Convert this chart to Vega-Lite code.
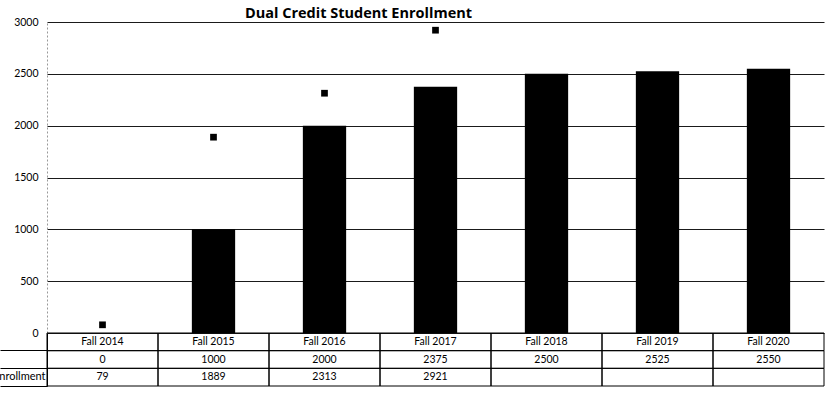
{
  "$schema": "https://vega.github.io/schema/vega-lite/v6.json",
  "autosize": {"type": "none"},
  "width": 777,
  "height": 364,
  "padding": {"left": 47, "top": 22, "right": 1, "bottom": 16},
  "background": "white",
  "config": {
    "view": {"stroke": null},
    "font": "Lato"
  },
  "title": {
    "text": "Dual Credit Student Enrollment",
    "font": "Open Sans",
    "fontSize": 14.5,
    "fontWeight": "bold",
    "color": "black",
    "anchor": "middle",
    "dx": -77,
    "offset": -4,
    "frame": "group"
  },
  "datasets": {
    "enroll": [
      {"season": "Fall 2014", "goal": 0, "actual": 79},
      {"season": "Fall 2015", "goal": 1000, "actual": 1889},
      {"season": "Fall 2016", "goal": 2000, "actual": 2313},
      {"season": "Fall 2017", "goal": 2375, "actual": 2921},
      {"season": "Fall 2018", "goal": 2500},
      {"season": "Fall 2019", "goal": 2525},
      {"season": "Fall 2020", "goal": 2550}
    ],
    "table": [
      {"season": "Fall 2014", "row": "Season", "text": "Fall 2014"},
      {"season": "Fall 2015", "row": "Season", "text": "Fall 2015"},
      {"season": "Fall 2016", "row": "Season", "text": "Fall 2016"},
      {"season": "Fall 2017", "row": "Season", "text": "Fall 2017"},
      {"season": "Fall 2018", "row": "Season", "text": "Fall 2018"},
      {"season": "Fall 2019", "row": "Season", "text": "Fall 2019"},
      {"season": "Fall 2020", "row": "Season", "text": "Fall 2020"},
      {"season": "Fall 2014", "row": "Goal", "text": "0"},
      {"season": "Fall 2015", "row": "Goal", "text": "1000"},
      {"season": "Fall 2016", "row": "Goal", "text": "2000"},
      {"season": "Fall 2017", "row": "Goal", "text": "2375"},
      {"season": "Fall 2018", "row": "Goal", "text": "2500"},
      {"season": "Fall 2019", "row": "Goal", "text": "2525"},
      {"season": "Fall 2020", "row": "Goal", "text": "2550"},
      {"season": "Fall 2014", "row": "Actual", "text": "79"},
      {"season": "Fall 2015", "row": "Actual", "text": "1889"},
      {"season": "Fall 2016", "row": "Actual", "text": "2313"},
      {"season": "Fall 2017", "row": "Actual", "text": "2921"},
      {"season": "Fall 2018", "row": "Actual", "text": ""},
      {"season": "Fall 2019", "row": "Actual", "text": ""},
      {"season": "Fall 2020", "row": "Actual", "text": ""}
    ]
  },
  "encoding": {
    "x": {
      "field": "season",
      "type": "nominal",
      "sort": null,
      "scale": {"paddingInner": 0, "paddingOuter": 0},
      "axis": null
    }
  },
  "layer": [
    {
      "data": {"name": "enroll"},
      "layer": [
        {
          "mark": {"type": "bar", "color": "black", "width": {"band": 0.39}},
          "encoding": {
            "y": {
              "field": "goal",
              "type": "quantitative",
              "scale": {"domain": [0, 3000], "range": [311, 0], "nice": false},
              "axis": {
                "title": null,
                "values": [0, 500, 1000, 1500, 2000, 2500, 3000],
                "format": "d",
                "grid": true,
                "gridColor": "#1a1a1a",
                "gridWidth": 1.2,
                "gridOpacity": 1,
                "ticks": false,
                "domain": true,
                "domainColor": "#999999",
                "domainDash": [2, 2],
                "domainWidth": 1,
                "labelFont": "Lato",
                "labelFontSize": 10.5,
                "labelColor": "black",
                "labelPadding": 9
              }
            }
          }
        },
        {
          "transform": [{"filter": "datum.actual != null"}],
          "mark": {"type": "point", "shape": "square", "filled": true, "color": "black", "size": 45, "opacity": 1},
          "encoding": {
            "y": {
              "field": "actual",
              "type": "quantitative",
              "scale": {"domain": [0, 3000], "range": [311, 0], "nice": false},
              "axis": {
                "title": null,
                "values": [0, 500, 1000, 1500, 2000, 2500, 3000],
                "format": "d",
                "grid": true,
                "gridColor": "#1a1a1a",
                "gridWidth": 1.2,
                "gridOpacity": 1,
                "ticks": false,
                "domain": true,
                "domainColor": "#999999",
                "domainDash": [2, 2],
                "domainWidth": 1,
                "labelFont": "Lato",
                "labelFontSize": 10.5,
                "labelColor": "black",
                "labelPadding": 9
              }
            }
          }
        }
      ]
    },
    {
      "data": {"name": "table"},
      "encoding": {
        "y": {
          "field": "row",
          "type": "nominal",
          "scale": {"domain": ["Season", "Goal", "Actual"], "range": [311, 364], "paddingInner": 0, "paddingOuter": 0},
          "axis": {
            "title": null,
            "orient": "left",
            "domain": true,
            "domainColor": "black",
            "domainWidth": 1,
            "ticks": true,
            "tickSize": 47,
            "tickColor": "black",
            "tickWidth": 1,
            "bandPosition": 1,
            "labelExpr": "datum.value == 'Actual' ? 'Actual Enrollment' : ''",
            "labelFont": "Lato",
            "labelFontSize": 11,
            "labelColor": "black",
            "labelPadding": -45,
            "labelOffset": 0,
            "labelBaseline": "middle",
            "grid": false
          }
        }
      },
      "layer": [
        {
          "mark": {"type": "rect", "fill": null, "fillOpacity": 0, "stroke": "black", "strokeWidth": 1},
          "encoding": {}
        },
        {
          "mark": {"type": "text", "font": "Lato", "fontSize": 10.5, "color": "black", "baseline": "middle"},
          "encoding": {"text": {"field": "text", "type": "nominal"}}
        }
      ]
    }
  ],
  "resolve": {"scale": {"y": "independent"}, "axis": {"y": "independent"}}
}
